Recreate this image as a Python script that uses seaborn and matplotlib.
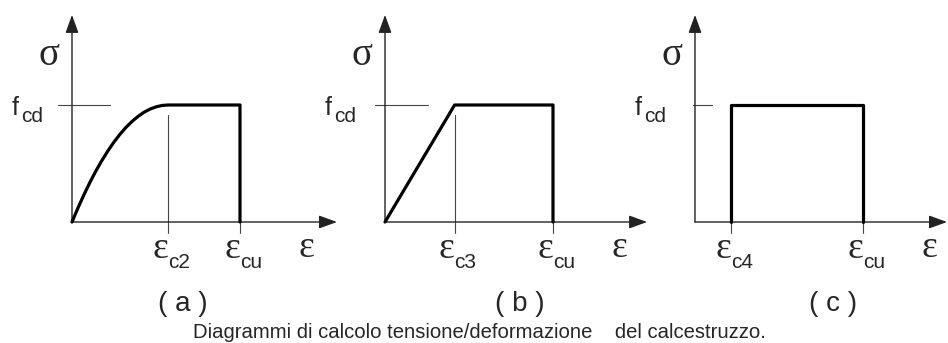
import matplotlib
matplotlib.use('Agg')
import matplotlib.pyplot as plt
import seaborn as sns

sns.set_style('white')
plt.rcParams['font.family'] = ['Liberation Sans', 'DejaVu Sans']

# Data: strain (per mille) and stress (fraction of fcd) for each diagram
strain_a = [0, 0.125, 0.25, 0.375, 0.5, 0.625, 0.75, 0.875, 1.0,
            1.125, 1.25, 1.375, 1.5, 1.625, 1.75, 1.875, 2.0, 3.5, 3.5]
stress_a = [0, 0.121, 0.234, 0.340, 0.438, 0.527, 0.609, 0.684, 0.750,
            0.809, 0.859, 0.902, 0.938, 0.965, 0.984, 0.996, 1.0, 1.0, 0]
strain_b = [0, 1.45, 3.5, 3.5]
stress_b = [0, 1.0, 1.0, 0]
strain_c = [0.75, 0.75, 3.5, 3.5]
stress_c = [0, 1.0, 1.0, 0]

panel_letters = ['a', 'b', 'c']
eps_ticks = [[2.0, 3.5], [1.45, 3.5], [0.75, 3.5]]
eps_subs = [['c2', 'cu'], ['c3', 'cu'], ['c4', 'cu']]
fcd = 1.0
caption = 'Diagrammi di calcolo tensione/deformazione    del calcestruzzo.'

# Layout (pixels of the 948x343 picture)
W, H = 948, 343
PX_X, PX_Y = 48, 117          # pixels per strain unit / per fcd
origin_x = [72, 385, 695]
origin_y = 222
arrow_tip_x = [5.52, 5.46, 5.25]
arrow_tip_y = 1.77
fcd_tick = [(-0.29, 0.79), (-0.21, 0.9), (-0.04, 0.35)]
guide_top = [0.915, 0.915, 0.0]
letter_x = [2.31, 2.81, 2.875]

curves = [(strain_a, stress_a), (strain_b, stress_b), (strain_c, stress_c)]

fig = plt.figure(figsize=(W / 100, H / 100), dpi=100)

serif = 'Liberation Serif'
arrow = dict(arrowstyle='-|>,head_length=1.1,head_width=0.4', lw=1.0,
             color='#222222', shrinkA=0, shrinkB=0, mutation_scale=10)


def label(ax, s, xy, off, **kw):
    ax.annotate(s, xy=xy, xytext=off, textcoords='offset pixels',
                annotation_clip=False, **kw)


for i in range(3):
    ox = origin_x[i]
    ax = fig.add_axes([0, 0, 1, 1])
    ax.set_xlim(-ox / PX_X, (W - ox) / PX_X)
    ax.set_ylim(-(H - origin_y) / PX_Y, origin_y / PX_Y)
    ax.axis('off')
    ax.patch.set_alpha(0)

    # axes with arrows
    ax.annotate('', xy=(arrow_tip_x[i], 0), xytext=(0, 0), arrowprops=arrow,
                annotation_clip=False)
    ax.annotate('', xy=(0, arrow_tip_y), xytext=(0, 0), arrowprops=arrow,
                annotation_clip=False)

    # thin guide lines
    ax.plot(fcd_tick[i], [fcd, fcd], lw=0.8, color='#444444')
    for k, t in enumerate(eps_ticks[i]):
        top = guide_top[i] if k == 0 else 0.0
        ax.plot([t, t], [-0.094, top], lw=0.8, color='#444444')

    # stress-strain diagram
    x, y = curves[i]
    sns.lineplot(x=x, y=y, sort=False, estimator=None, color='black',
                 lw=2.3, ax=ax, zorder=5, solid_joinstyle='round')

    # labels
    label(ax, 'σ', (0, 0), (-23, 157), family=serif, fontsize=28,
          ha='center', va='baseline')
    label(ax, 'f', (0, 0), (-60, 107), fontsize=18, ha='left', va='baseline')
    label(ax, 'cd', (0, 0), (-51, 100), fontsize=15, ha='left', va='baseline')
    for t, sub in zip(eps_ticks[i], eps_subs[i]):
        label(ax, 'ε', (t, 0), (0, -36), family=serif, fontsize=27,
              ha='right', va='baseline')
        label(ax, sub, (t, 0), (0, -46), fontsize=15, ha='left',
              va='baseline')
    label(ax, 'ε', (0, 0), (234, -35), family=serif, fontsize=27,
          ha='center', va='baseline')
    label(ax, '( %s )' % panel_letters[i], (letter_x[i], 0), (0, -89),
          fontsize=20, ha='center', va='baseline')

fig.text(193 / W, 1 - 338 / H, caption, fontsize=14.6, ha='left',
         va='baseline')

fig.savefig('out.png', dpi=100)
